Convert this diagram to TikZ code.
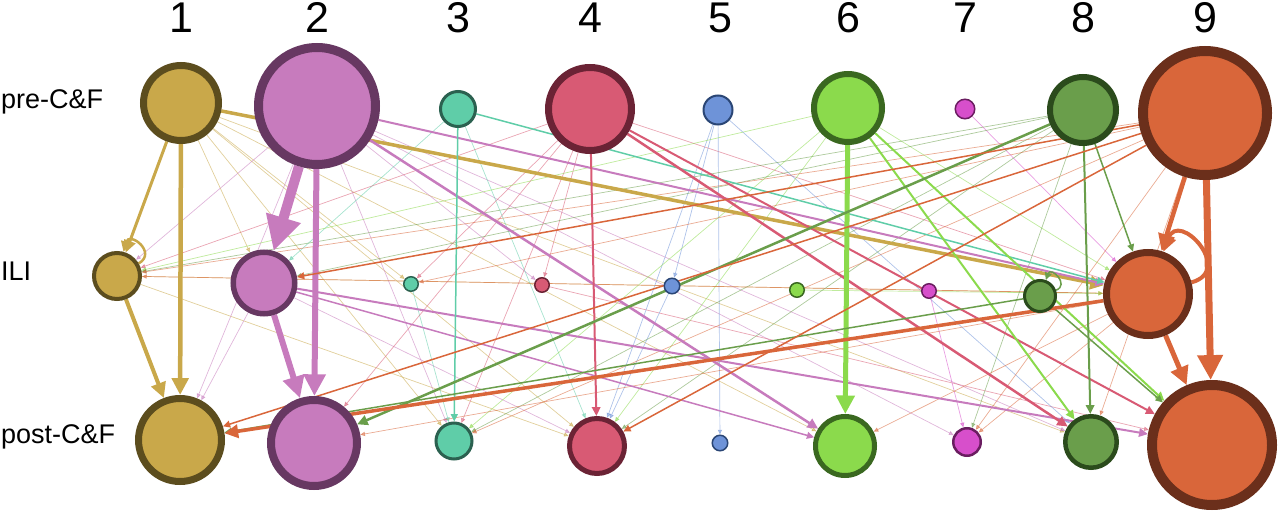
\documentclass[tikz,border=0pt]{standalone}
\usepackage{fontspec}
\setmainfont{Liberation Sans}
\usetikzlibrary{arrows.meta}
\definecolor{f1}{HTML}{C9A84A}\definecolor{b1}{HTML}{5C4D1E}
\definecolor{f2}{HTML}{C77BBD}\definecolor{b2}{HTML}{673862}
\definecolor{f3}{HTML}{5FCDA8}\definecolor{b3}{HTML}{2B6150}
\definecolor{f4}{HTML}{D85A74}\definecolor{b4}{HTML}{6B2335}
\definecolor{f5}{HTML}{6E93D8}\definecolor{b5}{HTML}{2A4675}
\definecolor{f6}{HTML}{8BDA4C}\definecolor{b6}{HTML}{3A6820}
\definecolor{f7}{HTML}{D74FCB}\definecolor{b7}{HTML}{6A1D60}
\definecolor{f8}{HTML}{6A9E4B}\definecolor{b8}{HTML}{2B4B1C}
\definecolor{f9}{HTML}{D9663A}\definecolor{b9}{HTML}{6B2F1B}
\pgfdeclarelayer{bg}\pgfsetlayers{bg,main}
\tikzset{
  nd/.style={circle, inner sep=0pt},
  se/.style 2 args={draw=#1, line width=#2pt, -{Triangle[length=2.5pt 3.2, width=2pt 3.2]}},
  te/.style={draw=#1, line width=0.7pt, opacity=0.55, -{Triangle[length=2.5pt 3.2, width=2pt 3.2]}},
  digit/.style={anchor=base, font=\fontsize{43}{43}\selectfont},
  rowlab/.style={anchor=base west, inner sep=0pt, font=\fontsize{27}{27}\selectfont}
}
\newcommand\NN[6]{\node[nd, minimum size=#4pt, line width=#5pt, draw=b#6, fill=f#6] (#1) at (#2,-#3) {};}
\newcommand\E[4]{\draw[se={f#1}{#2}] (#3) -- (#4);}
\newcommand\T[3]{\draw[te=f#1] (#2) -- (#3);}
\begin{document}
\begin{tikzpicture}[x=1pt,y=1pt]
\useasboundingbox (0,0) rectangle (1280,-513);
% labels
\node[digit] (d1) at (181,-33) {1};
\node[digit] (d2) at (317,-33) {2};
\node[digit] (d3) at (458,-33) {3};
\node[digit] (d4) at (590,-33) {4};
\node[digit] (d5) at (720,-33) {5};
\node[digit] (d6) at (848,-33) {6};
\node[digit] (d7) at (965,-33) {7};
\node[digit] (d8) at (1083,-33) {8};
\node[digit] (d9) at (1205,-33) {9};
\node[rowlab] (lpre) at (1,-109) {pre-C\&F};
\node[rowlab] (lili) at (1,-280) {ILI};
\node[rowlab] (lpost) at (1,-443) {post-C\&F};
% nodes
\NN{p1}{181}{103}{75}{7}{1}
\NN{p2}{317}{106}{117}{9}{2}
\NN{p3}{458}{109}{35}{3}{3}
\NN{p4}{590}{109}{83}{7}{4}
\NN{p5}{718}{110}{29}{2}{5}
\NN{p6}{848}{108}{68}{6}{6}
\NN{p7}{965}{109}{19.5}{1.5}{7}
\NN{p8}{1083}{110}{66}{6}{8}
\NN{p9}{1205}{113}{124}{10}{9}
\NN{i1}{117}{276}{46}{4}{1}
\NN{i2}{264}{283}{61.5}{5.5}{2}
\NN{i3}{411}{284}{14.5}{1.5}{3}
\NN{i4}{542}{285}{14.5}{1.5}{4}
\NN{i5}{672}{286}{15.5}{1.5}{5}
\NN{i6}{797}{290}{14.5}{1.5}{6}
\NN{i7}{929}{291}{14.5}{1.5}{7}
\NN{i8}{1040}{296}{31}{3}{8}
\NN{i9}{1148}{294}{83}{7}{9}
\NN{q1}{180}{440}{83}{7}{1}
\NN{q2}{314}{443}{86}{8}{2}
\NN{q3}{454}{441}{36}{3}{3}
\NN{q4}{597}{446}{55}{5}{4}
\NN{q5}{720}{443}{15.5}{1.5}{5}
\NN{q6}{845}{446}{59}{5}{6}
\NN{q7}{967}{442}{27.5}{2.5}{7}
\NN{q8}{1091}{442}{51.5}{4.5}{8}
\NN{q9}{1212}{445}{120}{10}{9}
\begin{pgfonlayer}{bg}
% thin edges
\T{1}{p1}{i2}\T{1}{p1}{i3}\T{1}{p1}{q3}\T{1}{p1}{q4}\T{1}{p1}{q6}\T{1}{p1}{q8}\T{1}{i1}{q4}\T{1}{i1}{i9}
\T{2}{p2}{i1}\T{2}{p2}{q1}\T{2}{i2}{q1}\T{2}{p2}{q3}\T{2}{p2}{i4}\T{2}{p2}{q7}\T{2}{p2}{q8}\T{2}{i2}{q4}
\T{3}{p3}{i2}\T{3}{p3}{q4}\T{3}{i3}{q3}
\T{4}{p4}{i4}\T{4}{p4}{i3}\T{4}{p4}{q3}\T{4}{p4}{i9}\T{4}{p4}{i1}\T{4}{i4}{q9}\T{4}{p4}{q2}
\T{5}{p5}{q5}\T{5}{p5}{q4}\T{5}{i5}{q4}\T{5}{p5}{q8}\T{5}{p5}{i5}
\T{6}{p6}{i9}\T{6}{p6}{i1}\T{6}{p6}{q4}\T{6}{i6}{i9}\T{6}{p6}{q3}
\T{7}{p7}{i9}\T{7}{i7}{q7}
\T{8}{p8}{q7}\T{8}{p8}{q3}\T{8}{p8}{i1}\T{8}{p8}{q4}\T{8}{p8}{i2}
\T{9}{p9}{i1}\T{9}{p9}{q7}\T{9}{p9}{q8}\T{9}{p9}{q3}\T{9}{p9}{i3}\T{9}{i9}{i1}\T{9}{i9}{q2}\T{9}{i9}{q6}\T{9}{i9}{q7}
% strong edges
\E{1}{3}{p1}{i1}
\E{1}{4.5}{p1}{q1}
\E{1}{4}{i1}{q1}
\E{1}{3.5}{p1}{i9}
\draw[se={f1}{2.5}] (i1) to[out=30,in=75,distance=22pt] (i1);
\E{2}{10}{p2}{i2}
\E{2}{6}{p2}{q2}
\E{2}{6}{i2}{q2}
\E{2}{2.5}{p2}{q6}
\E{2}{2}{p2}{i9}
\E{2}{2}{i2}{q9}
\E{2}{1.5}{i2}{q6}
\E{3}{1.5}{p3}{q3}
\E{3}{1.5}{p3}{i9}
\E{4}{2}{p4}{q4}
\E{4}{2.5}{p4}{q8}
\E{4}{2}{p4}{q9}
\E{6}{5}{p6}{q6}
\E{6}{2}{p6}{q8}
\E{6}{2}{p6}{q9}
\E{8}{2.5}{p8}{q2}
\E{8}{2}{p8}{q8}
\E{8}{1.5}{p8}{i9}
\E{8}{1.5}{i8}{q9}
\E{8}{1.5}{i8}{q1}
\draw[se={f8}{1.5}] (i8) to[out=20,in=70,distance=15pt] (i8);
\E{9}{4.5}{p9}{i9}
\E{9}{7}{p9}{q9}
\draw[se={f9}{4}] (i9) to[out=15,in=70,distance=45pt] (i9);
\E{9}{5}{i9}{q9}
\E{9}{3.5}{i9}{q1}
\E{9}{1.5}{p9}{i2}
\E{9}{1.5}{p9}{q4}
\E{9}{1.5}{p9}{q1}
\end{pgfonlayer}
\end{tikzpicture}
\end{document}
